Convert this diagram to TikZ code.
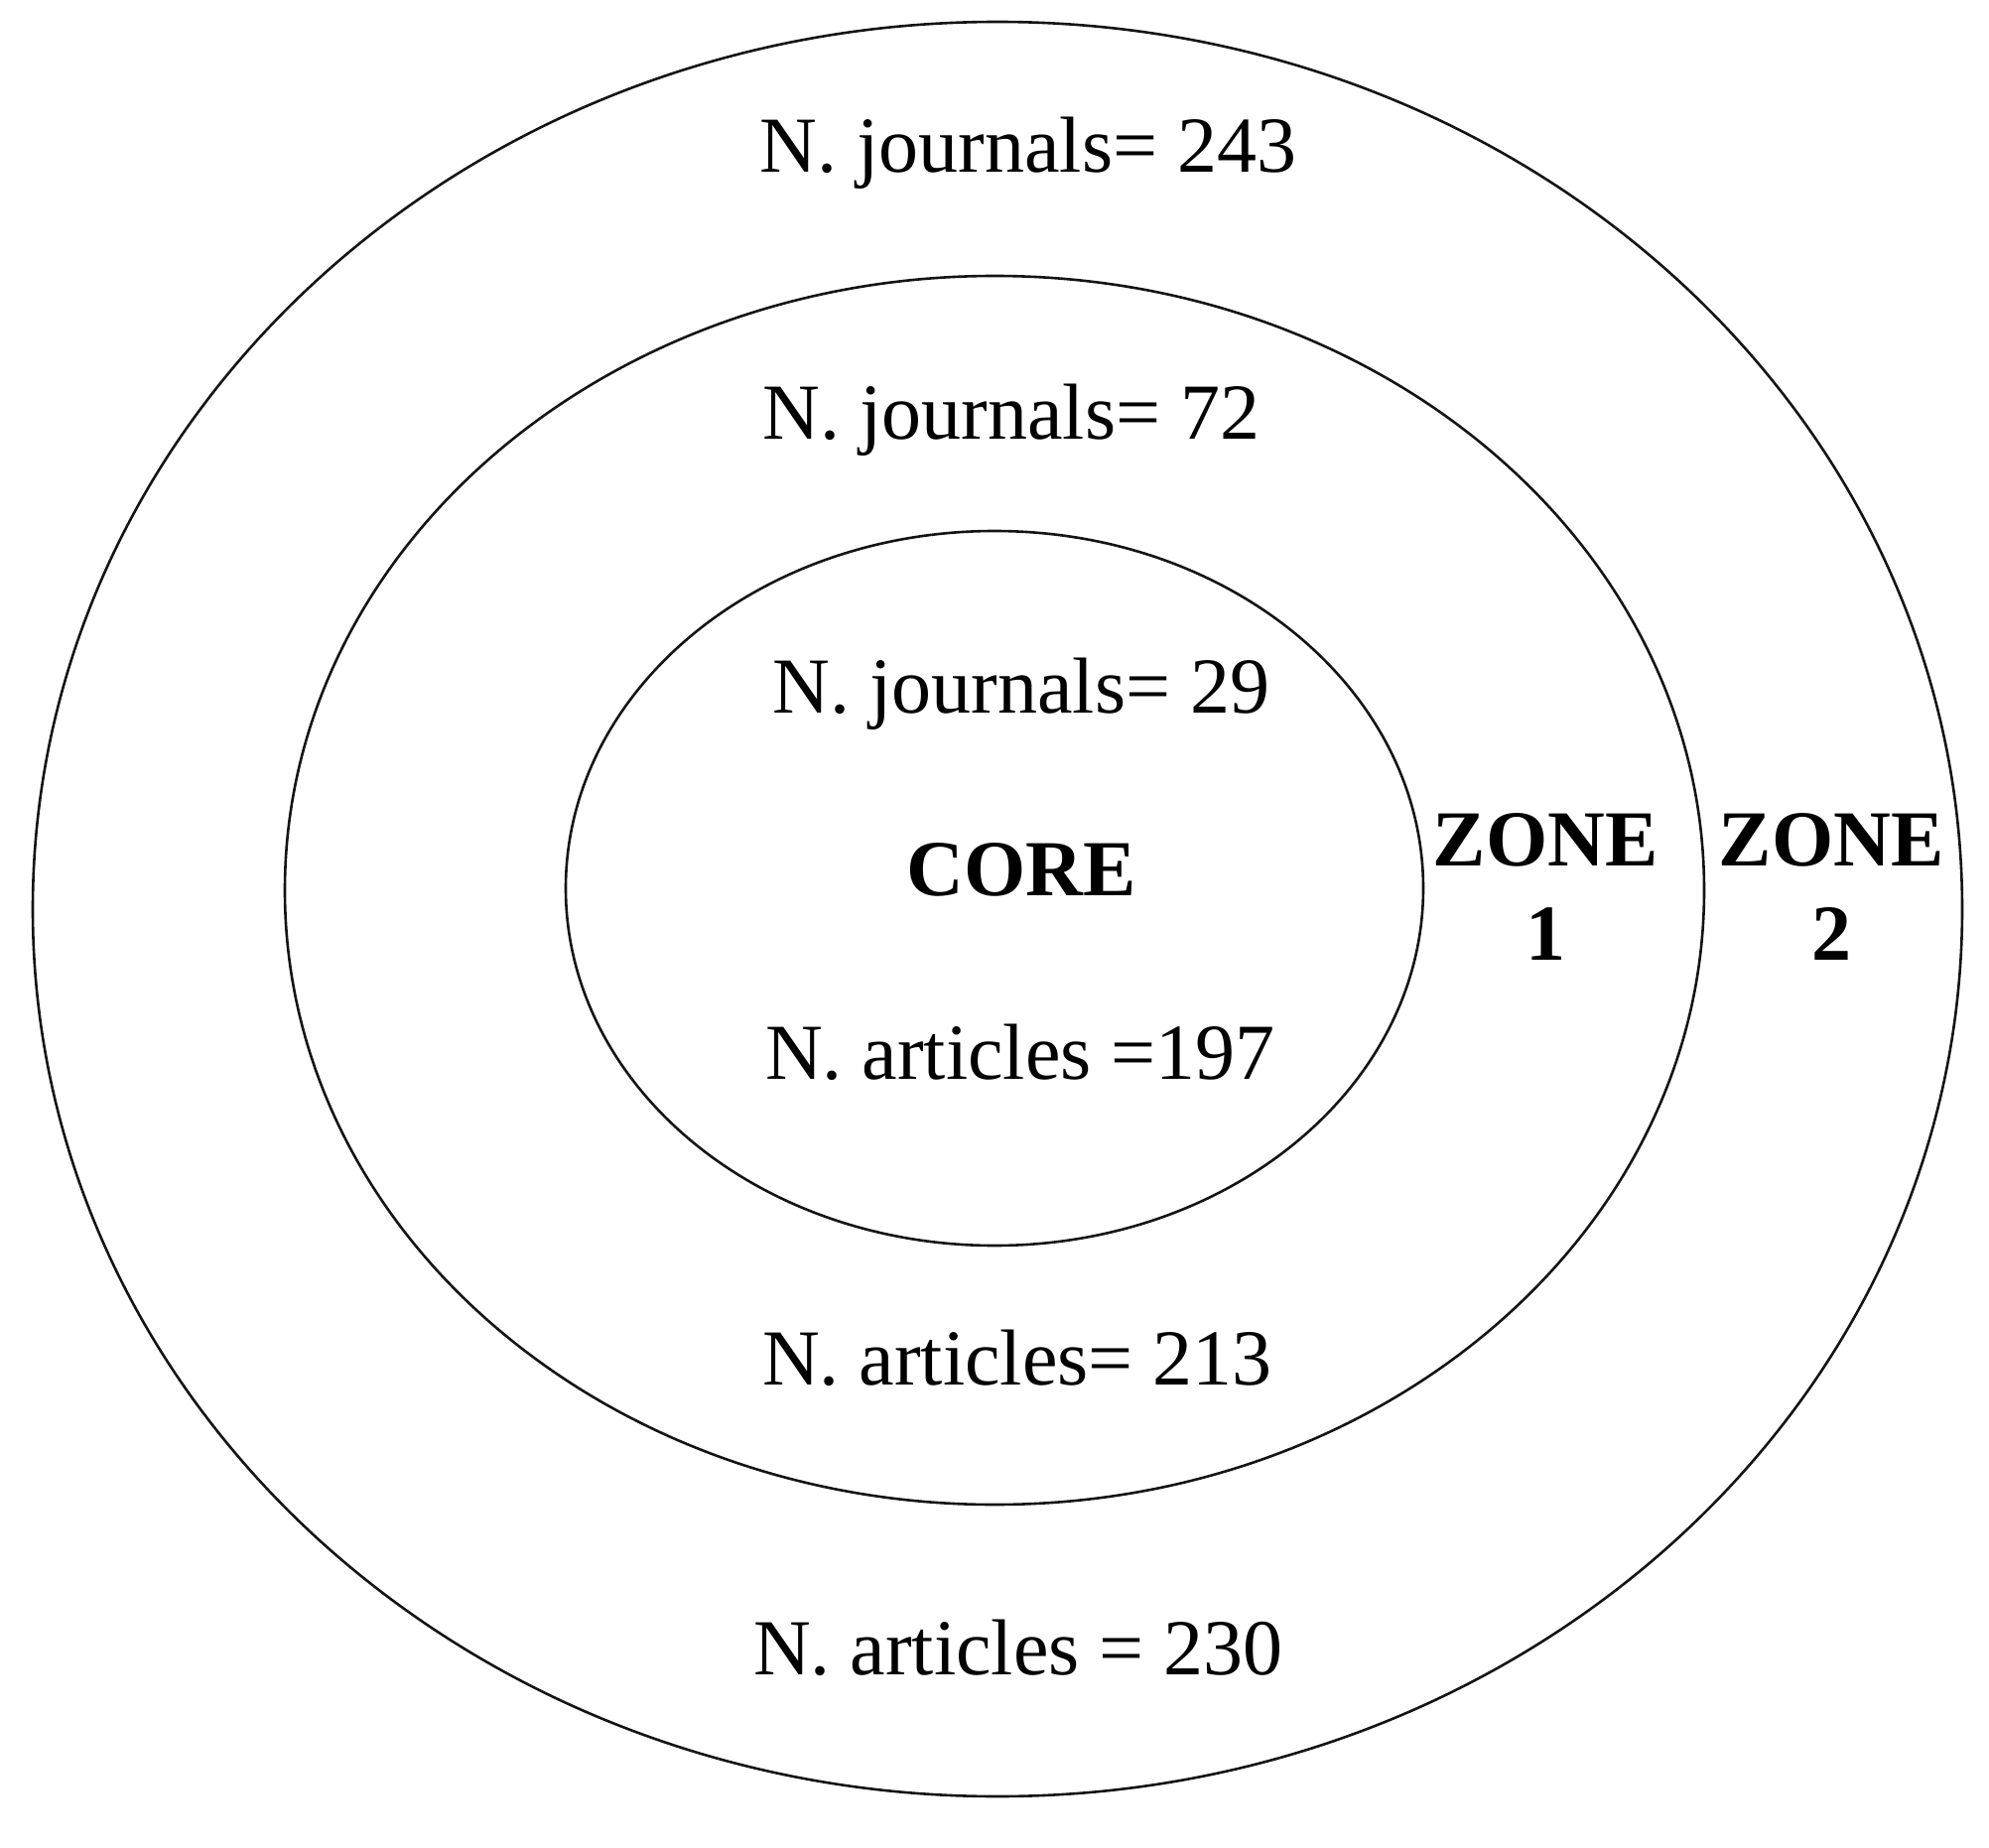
\documentclass[tikz,border=0pt]{standalone}
\usepackage{fontspec}
\setmainfont{Liberation Serif}

\tikzset{every picture/.style={line width=1.3pt}}
\tikzset{
  count/.style={font=\fontsize{40}{48}\selectfont, anchor=base, inner sep=0pt},
  zone/.style={font=\fontsize{40}{47.5}\selectfont\bfseries, anchor=base, align=center, inner sep=0pt},
}

\begin{document}
\begin{tikzpicture}[x=0.5pt,y=0.5pt,yscale=-1,xscale=1]
%set diagram left start at 0, and has height of 1862
\useasboundingbox (0,0) rectangle (2004,1862);

%Shape: Ellipse [id:zone2]
\draw  [color={rgb, 255:red, 20; green, 20; blue, 20 }  ,draw opacity=1 ] (1005,916) ellipse [x radius=972, y radius=894];

%Shape: Ellipse [id:zone1]
\draw  [color={rgb, 255:red, 20; green, 20; blue, 20 }  ,draw opacity=1 ] (1002,897) ellipse [x radius=715, y radius=619];

%Shape: Ellipse [id:core]
\draw  [color={rgb, 255:red, 20; green, 20; blue, 20 }  ,draw opacity=1 ] (1002,895) ellipse [x radius=432, y radius=360];

% Text Node
\draw (1036,174) node (jrn2) [count] {N. journals= 243};
% Text Node
\draw (1019,443) node (jrn1) [count] {N. journals= 72};
% Text Node
\draw (1029,718) node (jrn0) [count] {N. journals= 29};
% Text Node
\draw (1029,902) node (corelbl) [zone] {CORE};
% Text Node
\draw (1028,1087) node (art0) [count] {N. articles =197};
% Text Node (base is the second line)
\draw (1557,967) node (zone1lbl) [zone] {ZONE\\1};
% Text Node
\draw (1845,967) node (zone2lbl) [zone] {ZONE\\2};
% Text Node
\draw (1025,1395) node (art1) [count] {N. articles= 213};
% Text Node
\draw (1026,1687) node (art2) [count] {N. articles = 230};

\end{tikzpicture}
\end{document}
